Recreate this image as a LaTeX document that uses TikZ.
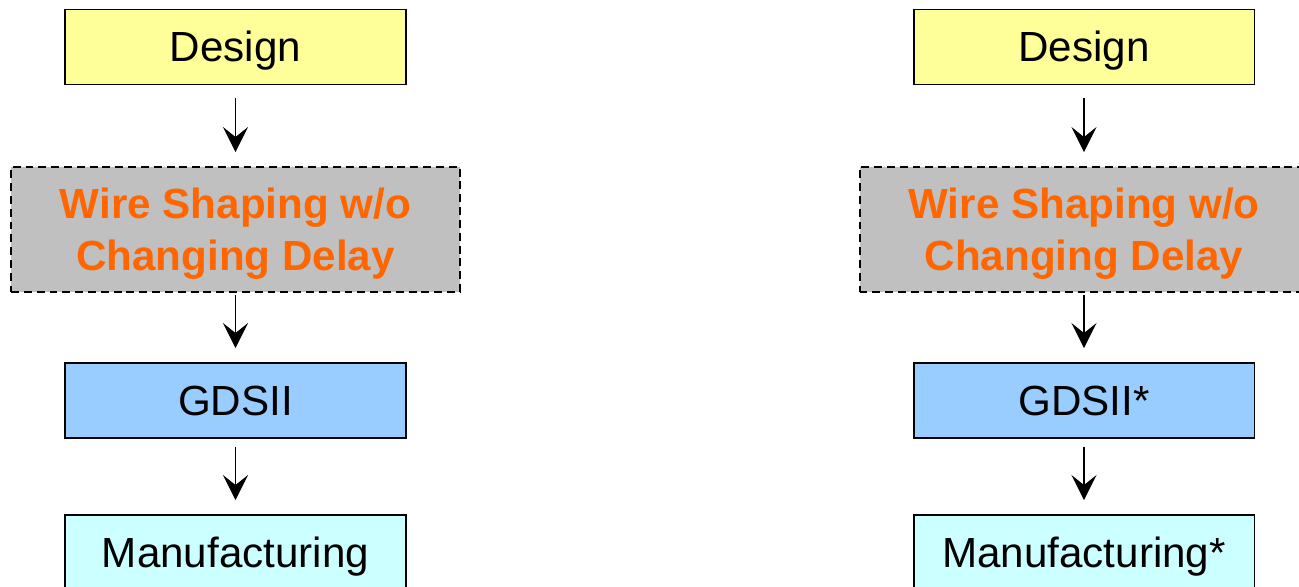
\documentclass[tikz,border=0pt]{standalone}
\usepackage{fontspec}
\setmainfont{Liberation Sans}
\usetikzlibrary{arrows.meta}
\definecolor{designyellow}{HTML}{FFFF99}
\definecolor{shapegray}{HTML}{C0C0C0}
\definecolor{shapeorange}{HTML}{FF6600}
\definecolor{gdsblue}{HTML}{99CCFF}
\definecolor{mfgcyan}{HTML}{CCFFFF}
\begin{document}
\begin{tikzpicture}[x = 0.02cm, y = -0.02cm,
        flowbox/.style = {draw = black, line width = 1.1pt, inner sep = 0pt,
                minimum width = 6.82cm, minimum height = 1.5cm,
                text height = 17pt, text depth = 0pt,
                font = \fontsize{24}{29}\selectfont},
        shapebox/.style = {draw = black, line width = 1.1pt, inner sep = 0pt,
                dash pattern = on 4.5pt off 2.8pt, fill = shapegray,
                minimum width = 8.98cm, minimum height = 2.5cm,
                text = shapeorange, align = center,
                text height = 46.6pt, text depth = 0pt,
                font = \fontsize{24}{29.5}\selectfont\bfseries},
        flow/.style = {-{Stealth[length = 0.5cm, width = 0.5cm, inset = 0.2cm]},
                line width = 0.75pt, shorten > = 0.28cm}]
                \useasboundingbox (0,0) rectangle (1299,587);
                \clip (0,0) rectangle (1299,587);

                % left flow
                \node[flowbox, fill = designyellow] (designL) at (235.5,47) {Design};
                \node[shapebox] (shapeL) at (235.5,229.5) {Wire Shaping w/o\\Changing Delay};
                \node[flowbox, fill = gdsblue] (gdsL) at (235.5,400.5) {GDSII};
                \node[flowbox, fill = mfgcyan] (mfgL) at (235.5,552.5) {Manufacturing};

                % right flow
                \node[flowbox, fill = designyellow] (designR) at (1084,47) {Design};
                \node[shapebox] (shapeR) at (1084,229.5) {Wire Shaping w/o\\Changing Delay};
                \node[flowbox, fill = gdsblue] (gdsR) at (1084,400.5) {GDSII*};
                \node[flowbox, fill = mfgcyan] (mfgR) at (1084,552.5) {Manufacturing*};

                \foreach \side in {L, R} {
                        \draw[flow, shorten < = 0.26cm] (design\side) -- (shape\side);
                        \draw[flow, shorten < = 0.04cm] (shape\side) -- (gds\side);
                        \draw[flow, shorten < = 0.16cm] (gds\side) -- (mfg\side);
                }
\end{tikzpicture}
\end{document}
